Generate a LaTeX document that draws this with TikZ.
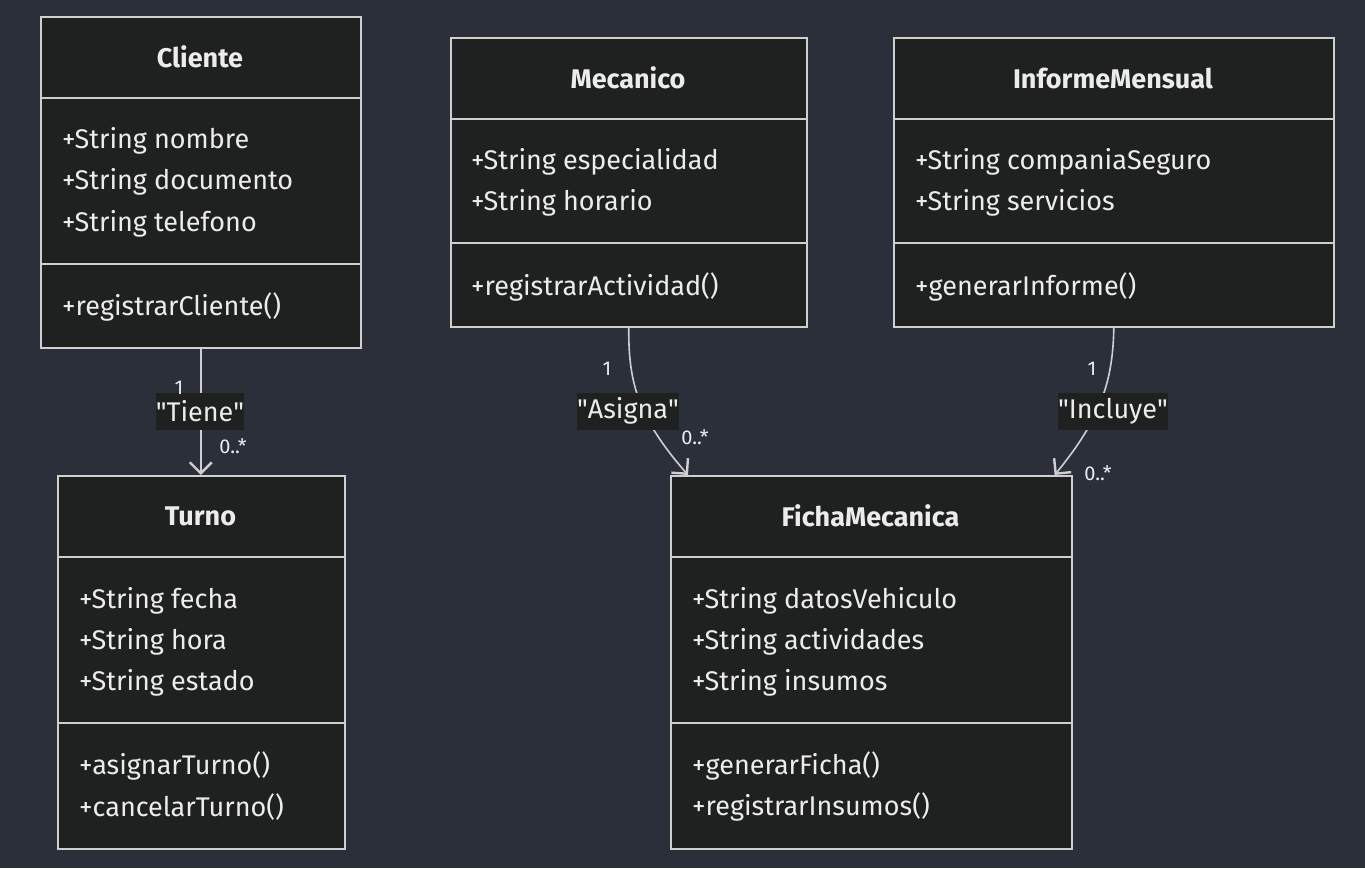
\documentclass[tikz,border=0pt]{standalone}
\usepackage{fontspec}
\setmainfont{Fira Sans}
\usetikzlibrary{arrows.meta,positioning}
\definecolor{bgcol}{HTML}{2B2F3A}
\definecolor{boxcol}{HTML}{1F2020}
\definecolor{linecol}{HTML}{CFCFCF}
\definecolor{txtcol}{HTML}{ECECEC}
\tikzset{%
    >={Straight Barb[length=11pt,width=22pt,line width=2.4pt]},
    classbox/.style={draw=linecol,fill=boxcol,line width=1.6pt,anchor=north west,inner sep=0pt},
    divider/.style={draw=linecol,line width=1.6pt},
    title/.style={text=txtcol,font=\fontsize{27}{31}\selectfont\bfseries},
    member/.style={text=txtcol,anchor=west,inner sep=0pt,yshift=-1pt,font=\fontsize{27}{31}\selectfont},
    rel/.style={draw=linecol,line width=1.6pt},
    lbl/.style={fill=boxcol,text=txtcol,inner xsep=0pt,inner ysep=2pt,minimum height=37pt,font=\fontsize{27}{31}\selectfont},
    mult/.style={text=txtcol,inner sep=0pt,font=\fontsize{20}{24}\selectfont}
}

\begin{document}
\begin{tikzpicture}[x=1pt,y=-1pt]
    \fill[bgcol] (0,0) rectangle (1365,868);
    \useasboundingbox (0,0) rectangle (1365,868);
    %%%%% classes
    \node[classbox,minimum width=320pt,minimum height=331pt] (cliente) at (40,16) {};
    \draw[divider] (cliente.west |- 0,98) -- (cliente.east |- 0,98);
    \draw[divider] (cliente.west |- 0,264) -- (cliente.east |- 0,264);
    \node[title] (cliente-t) at (200,57) {Cliente};
    \node[member] (cliente-a1) at (62,140) {+String nombre};
    \node[member] (cliente-a2) at (62,181) {+String documento};
    \node[member] (cliente-a3) at (62,223) {+String telefono};
    \node[member] (cliente-m1) at (62,306) {+registrarCliente()};

    \node[classbox,minimum width=356pt,minimum height=289pt] (mecanico) at (450,37) {};
    \draw[divider] (mecanico.west |- 0,119) -- (mecanico.east |- 0,119);
    \draw[divider] (mecanico.west |- 0,243) -- (mecanico.east |- 0,243);
    \node[title] (mecanico-t) at (628,78) {Mecanico};
    \node[member] (mecanico-a1) at (471,161) {+String especialidad};
    \node[member] (mecanico-a2) at (471,202) {+String horario};
    \node[member] (mecanico-m1) at (471,286) {+registrarActividad()};

    \node[classbox,minimum width=440pt,minimum height=289pt] (informe) at (893,37) {};
    \draw[divider] (informe.west |- 0,119) -- (informe.east |- 0,119);
    \draw[divider] (informe.west |- 0,243) -- (informe.east |- 0,243);
    \node[title] (informe-t) at (1113,78) {InformeMensual};
    \node[member] (informe-a1) at (915,161) {+String companiaSeguro};
    \node[member] (informe-a2) at (915,202) {+String servicios};
    \node[member] (informe-m1) at (915,286) {+generarInforme()};

    \node[classbox,minimum width=287pt,minimum height=373pt] (turno) at (57,475) {};
    \draw[divider] (turno.west |- 0,557) -- (turno.east |- 0,557);
    \draw[divider] (turno.west |- 0,723) -- (turno.east |- 0,723);
    \node[title] (turno-t) at (200.5,516) {Turno};
    \node[member] (turno-a1) at (79,600) {+String fecha};
    \node[member] (turno-a2) at (79,641) {+String hora};
    \node[member] (turno-a3) at (79,682) {+String estado};
    \node[member] (turno-m1) at (79,765) {+asignarTurno()};
    \node[member] (turno-m2) at (79,806) {+cancelarTurno()};

    \node[classbox,minimum width=401pt,minimum height=373pt] (ficha) at (670,475) {};
    \draw[divider] (ficha.west |- 0,557) -- (ficha.east |- 0,557);
    \draw[divider] (ficha.west |- 0,723) -- (ficha.east |- 0,723);
    \node[title] (ficha-t) at (870.5,516) {FichaMecanica};
    \node[member] (ficha-a1) at (692,600) {+String datosVehiculo};
    \node[member] (ficha-a2) at (692,641) {+String actividades};
    \node[member] (ficha-a3) at (692,682) {+String insumos};
    \node[member] (ficha-m1) at (692,765) {+generarFicha()};
    \node[member] (ficha-m2) at (692,806) {+registrarInsumos()};
    %%%%% relations
    \draw[rel,->] (cliente.south) -- (cliente.south |- turno.north);
    \draw[rel,->] (mecanico.south) .. controls (628,385) and (640,420) .. ([xshift=18pt]ficha.north west);
    \draw[rel,->] (informe.south) .. controls (1113,385) and (1098,422) .. ([xshift=-18pt]ficha.north east);
    \node[lbl] (tiene) at (200,411) {\textquotedbl Tiene\textquotedbl};
    \node[lbl] (asigna) at (628,411) {\textquotedbl Asigna\textquotedbl};
    \node[lbl] (incluye) at (1113,411) {\textquotedbl Incluye\textquotedbl};
    \node[mult] (m1a) at (179,388) {1};
    \node[mult] (m1b) at (233,446) {0..*};
    \node[mult] (m2a) at (607,369) {1};
    \node[mult] (m2b) at (695,437) {0..*};
    \node[mult] (m3a) at (1092,369) {1};
    \node[mult] (m3b) at (1098,473) {0..*};
\end{tikzpicture}
\end{document}
